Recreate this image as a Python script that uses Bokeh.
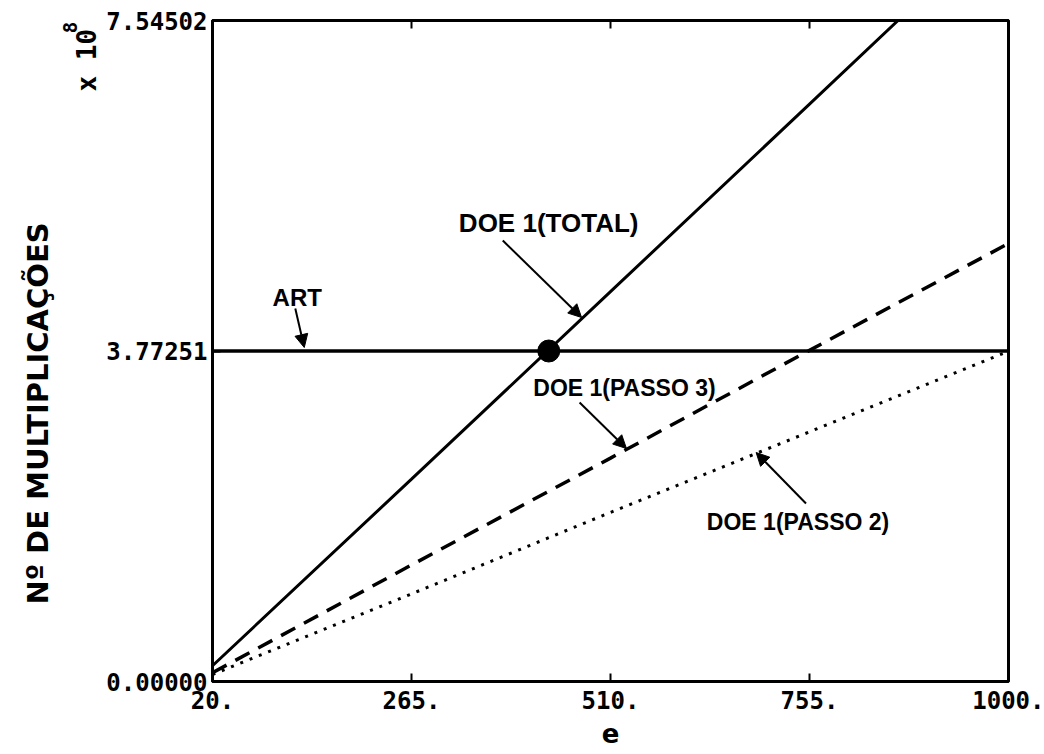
import math
from bokeh.plotting import figure
from bokeh.layouts import row
from bokeh.models import (Range1d, FixedTicker, LinearAxis, Label, Arrow,
                          NormalHead, NumeralTickFormatter)
from bokeh.core.properties import value
from bokeh.embed import file_html
from bokeh.resources import INLINE

# ---------------- data (values in units of 10^8) ----------------
e_ticks = [20, 265, 510, 755, 1000]
x_tick_labels = ["20.", "265.", "510.", "755.", "1000."]
y_ticks = [0.0, 3.77251, 7.54502]

e_total = [20, 265, 510, 755, 864]
doe1_total = [0.18, 2.31, 4.45, 6.59, 7.545]

e_steps = [20, 265, 510, 755, 1000]
doe1_passo3 = [0.10, 1.33, 2.55, 3.78, 5.00]
doe1_passo2 = [0.08, 1.00, 1.93, 2.85, 3.77]

e_art = [20, 1000]
art = [3.77251, 3.77251]

e_cross = [434]
v_cross = [3.77251]

y_title = "Nº DE MULTIPLICAÇÕES"
x_title = "e"
multiplier = "x 10"
multiplier_exp = "8"

# ---------------- layout ----------------
W, H = 1044, 754
SIDE = 103                      # width of the left strip holding the y title
L, R, T, B = 210, 1008, 20, 681  # frame edges in page pixels
XMIN, XMAX = 20, 1000
YMIN, YMAX = 0.0, 7.54502


def dx(px):
    return XMIN + (px - L) * (XMAX - XMIN) / (R - L)


def dy(py):
    return YMIN + (B - py) * (YMAX - YMIN) / (B - T)


# left strip: blank figure; its frame is aligned with the main frame (rows
# align frames), so its y range is expressed as (H - page pixel)
side = figure(width=SIDE, height=H, output_backend="svg", toolbar_location=None,
              x_range=Range1d(0, SIDE), y_range=Range1d(H - B, H - T),
              min_border_left=0, min_border_right=0,
              min_border_top=T, min_border_bottom=H - B,
              x_axis_location=None, y_axis_location=None)
side.outline_line_color = None
side.xgrid.visible = False
side.ygrid.visible = False
side.background_fill_color = "white"
side.border_fill_color = "white"

side.text(x=[37], y=[H - 413], text=[y_title], angle=math.pi / 2,
          text_font=value("DejaVu Sans"), text_font_style="bold",
          text_font_size="29px", text_color="black",
          text_align="center", text_baseline="middle")
side.text(x=[101], y=[H - 91], text=[multiplier], angle=math.pi / 2,
          text_font=value("DejaVu Sans Mono"), text_font_style="bold",
          text_font_size="26px", text_color="black",
          text_align="left", text_baseline="bottom")
side.text(x=[69], y=[H - 27], text=[multiplier_exp], angle=math.pi / 2,
          text_font=value("DejaVu Sans Mono"), text_font_style="bold",
          text_font_size="19px", text_color="black",
          text_align="center", text_baseline="middle")

p = figure(width=W - SIDE, height=H, output_backend="svg", toolbar_location=None,
           x_range=Range1d(XMIN, XMAX), y_range=Range1d(YMIN, YMAX),
           min_border_left=L - SIDE, min_border_right=W - R,
           min_border_top=T, min_border_bottom=H - B,
           x_axis_location="below", y_axis_location="left")
p.background_fill_color = "white"
p.border_fill_color = "white"
p.outline_line_color = "black"
p.outline_line_width = 3
p.xgrid.visible = False
p.ygrid.visible = False

tick_font = "DejaVu Sans Mono"

xa = p.xaxis[0]
xa.ticker = FixedTicker(ticks=e_ticks)
xa.major_label_overrides = {t: s for t, s in zip(e_ticks, x_tick_labels)}
xa.major_label_text_font = tick_font
xa.major_label_text_font_style = "bold"
xa.major_label_text_font_size = "24px"
xa.major_label_text_color = "black"
xa.major_label_standoff = 9
xa.major_tick_in = 8
xa.major_tick_out = 0
xa.major_tick_line_width = 2
xa.minor_tick_line_color = None
xa.axis_line_width = 3
xa.axis_label = x_title
xa.axis_label_text_font = "DejaVu Sans"
xa.axis_label_text_font_style = "bold"
xa.axis_label_text_font_size = "26px"
xa.axis_label_text_color = "black"
xa.axis_label_standoff = 11

ya = p.yaxis[0]
ya.ticker = FixedTicker(ticks=y_ticks)
ya.formatter = NumeralTickFormatter(format="0.00000")
ya.major_label_text_font = tick_font
ya.major_label_text_font_style = "bold"
ya.major_label_text_font_size = "24px"
ya.major_label_text_color = "black"
ya.major_label_standoff = 5
ya.major_tick_in = 8
ya.major_tick_out = 0
ya.major_tick_line_width = 2
ya.minor_tick_line_color = None
ya.axis_line_width = 3

top = LinearAxis(ticker=FixedTicker(ticks=e_ticks))
top.major_label_text_font_size = "0px"
top.major_label_standoff = 0
top.major_tick_in = 8
top.major_tick_out = 0
top.major_tick_line_width = 2
top.minor_tick_line_color = None
top.axis_line_width = 3
p.add_layout(top, "above")

# ---------------- series ----------------
p.line(e_art, art, line_color="black", line_width=3.5)
p.line(e_total, doe1_total, line_color="black", line_width=3)
p.line(e_steps, doe1_passo3, line_color="black", line_width=3.5,
       line_dash="16 10")
p.line(e_steps, doe1_passo2, line_color="black", line_width=3,
       line_dash="3 7")
p.scatter(e_cross, v_cross, size=22, fill_color="black", line_color="black")


# ---------------- annotations ----------------
def arrow(x0, y0, x1, y1):
    p.add_layout(Arrow(x_start=dx(x0), y_start=dy(y0), x_end=dx(x1), y_end=dy(y1),
                       line_color="black", line_width=2,
                       end=NormalHead(size=13, fill_color="black",
                                      line_color="black")))


def text(px, py, s, size, font="Liberation Sans"):
    p.add_layout(Label(x=dx(px), y=dy(py), text=s, text_font=font,
                       text_font_style="bold", text_font_size=size,
                       text_color="black", text_align="center",
                       text_baseline="middle"))


text(295, 297, "ART", "24px")
arrow(293, 308, 302, 347)

text(547, 222, "DOE 1(TOTAL)", "26px")
arrow(501, 240, 580, 317)

text(623, 387, "DOE 1(PASSO 3)", "23px")
arrow(578, 402, 625, 448)

text(797, 521, "DOE 1(PASSO 2)", "23px")
arrow(805, 503, 755, 452)

layout = row(side, p, spacing=0)
open("out.html", "w").write(file_html(layout, INLINE))
